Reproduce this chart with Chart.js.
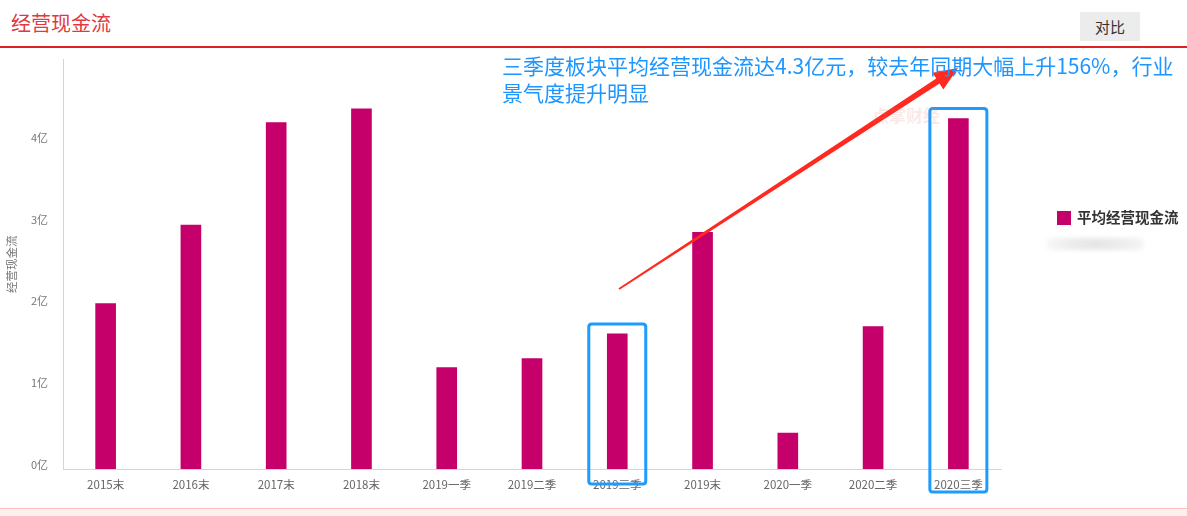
<!DOCTYPE html>
<html>
<head>
<meta charset="utf-8">
<script src="https://cdn.jsdelivr.net/npm/chart.js@4.4.0/dist/chart.umd.min.js"></script>
<style>
  html, body { margin:0; padding:0; background:#fff; width:1187px; height:516px; overflow:hidden;
    font-family:"Noto Sans CJK SC","Noto Sans",sans-serif; }
  #title { position:absolute; left:11px; top:10px; font-size:20px; color:#e0393e; line-height:26px; }
  #redline { position:absolute; left:0; top:46px; width:1187px; height:2px; background:#dd2127; }
  #btn { position:absolute; left:1080px; top:12px; width:60px; height:29px; background:#ececec;
    color:#333; font-size:15px; line-height:29px; text-align:center; }
  #wrap { position:absolute; left:0; top:38px; width:1187px; height:470px; }
  #bottom { position:absolute; left:0; top:508px; width:1187px; height:8px; background:#fff0f0; border-top:1px solid #ffc2c2; box-sizing:border-box; }
  #note { position:absolute; left:502px; top:52px; width:690px; font-size:21px; line-height:27px; color:#1e96ff; white-space:nowrap; }
  #legend { position:absolute; left:1057px; top:208px; font-size:14.5px; font-weight:600; color:#333; line-height:18px; }
  #legend span.sw { display:inline-block; width:14px; height:14px; background:#c6006a; vertical-align:-2px; margin-right:6px; }
  #blur { position:absolute; left:1047px; top:238px; width:96px; height:12px; background:linear-gradient(90deg,#f7f7f7,#ececec,#e6e6e6,#ececec,#f4f4f4); filter:blur(2px); }
  #wm { position:absolute; left:872px; top:102px; font-size:17px; font-weight:bold; color:rgba(230,120,120,0.16); }
</style>
</head>
<body>
<div id="title">经营现金流</div>
<div id="btn">对比</div>
<div id="redline"></div>
<div id="wrap"><canvas id="c" width="1187" height="470"></canvas></div>
<div id="wm">点掌财经</div>
<div id="note">三季度板块平均经营现金流达4.3亿元，较去年同期大幅上升156%，行业<br>景气度提升明显</div>
<div id="legend"><span class="sw"></span>平均经营现金流</div>
<div id="blur"></div>
<div id="bottom"></div>
<script>
const categories = ["2015末","2016末","2017末","2018末","2019一季","2019二季","2019三季","2019末","2020一季","2020二季","2020三季"];
const seriesName = "平均经营现金流";
const values = [2.02, 2.98, 4.23, 4.40, 1.24, 1.35, 1.65, 2.89, 0.44, 1.74, 4.28];
const yTicks = [0, 1, 2, 3, 4];
const yUnit = "亿";
const highlighted = ["2019三季", "2020三季"];
const CANVAS_TOP = 38;

const annotate = {
  id: 'annotate',
  afterDatasetsDraw(chart) {
    const ctx = chart.ctx;
    const meta = chart.getDatasetMeta(0);
    const yBottom = chart.scales.y.getPixelForValue(0);
    ctx.save();
    ctx.strokeStyle = '#1e9bff';
    ctx.lineWidth = 3;
    highlighted.forEach((cat, k) => {
      const i = categories.indexOf(cat);
      const bar = meta.data[i];
      const x0 = bar.x - 28.5, x1 = bar.x + 28.5;
      const y0 = bar.y - 10, y1 = yBottom + (k === 0 ? 15 : 23);
      const r = 3;
      ctx.beginPath();
      ctx.moveTo(x0 + r, y0);
      ctx.lineTo(x1 - r, y0); ctx.quadraticCurveTo(x1, y0, x1, y0 + r);
      ctx.lineTo(x1, y1 - r); ctx.quadraticCurveTo(x1, y1, x1 - r, y1);
      ctx.lineTo(x0 + r, y1); ctx.quadraticCurveTo(x0, y1, x0, y1 - r);
      ctx.lineTo(x0, y0 + r); ctx.quadraticCurveTo(x0, y0, x0 + r, y0);
      ctx.stroke();
    });
    const sx = 619, sy = 289 - CANVAS_TOP, tx = 958, ty = 68 - CANVAS_TOP;
    const ang = Math.atan2(ty - sy, tx - sx);
    const headLen = 24, headW = 10;
    const bx = tx - headLen * Math.cos(ang), by = ty - headLen * Math.sin(ang);
    const nx = -Math.sin(ang), ny = Math.cos(ang);
    ctx.fillStyle = '#ff2a1f';
    ctx.beginPath();
    ctx.moveTo(sx + nx * 0.9, sy + ny * 0.9);
    ctx.lineTo(bx + nx * 3, by + ny * 3);
    ctx.lineTo(bx + nx * headW, by + ny * headW);
    ctx.lineTo(tx, ty);
    ctx.lineTo(bx - nx * headW, by - ny * headW);
    ctx.lineTo(bx - nx * 3, by - ny * 3);
    ctx.lineTo(sx - nx * 0.9, sy - ny * 0.9);
    ctx.closePath();
    ctx.fill();
    ctx.restore();
  }
};

new Chart(document.getElementById('c'), {
  type: 'bar',
  data: {
    labels: categories,
    datasets: [{ label: seriesName, data: values, backgroundColor: '#c6006a', barThickness: 20 }]
  },
  options: {
    responsive: false,
    animation: false,
    layout: { padding: { left: 0, right: 186, top: 2, bottom: 0 } },
    plugins: { legend: { display: false }, tooltip: { enabled: false } },
    scales: {
      x: {
        grid: { display: false, drawTicks: false },
        border: { display: true, color: '#c8d5ea', width: 1 },
        ticks: { color: '#666', font: { size: 11.5, family: '"Noto Sans CJK SC"' }, padding: 9, maxRotation: 0, autoSkip: false },
        afterFit(s) { s.height = 39; }
      },
      y: {
        min: 0, max: 5,
        grid: { display: false, drawTicks: false },
        border: { display: true, color: '#c8d5ea', width: 1 },
        afterBuildTicks(s) { s.ticks = yTicks.concat([5]).map(v => ({ value: v })); },
        ticks: {
          color: '#777', font: { size: 11, family: '"Noto Sans CJK SC"' }, padding: 15, labelOffset: -4,
          callback: v => (yTicks.includes(v) ? v + yUnit : '')
        },
        title: { display: true, text: '经营现金流', color: '#777', font: { size: 11.5, family: '"Noto Sans CJK SC"' }, padding: { top: 5, bottom: 0 } },
        afterFit(s) { s.width = 63; }
      }
    }
  },
  plugins: [annotate]
});
</script>
</body>
</html>
